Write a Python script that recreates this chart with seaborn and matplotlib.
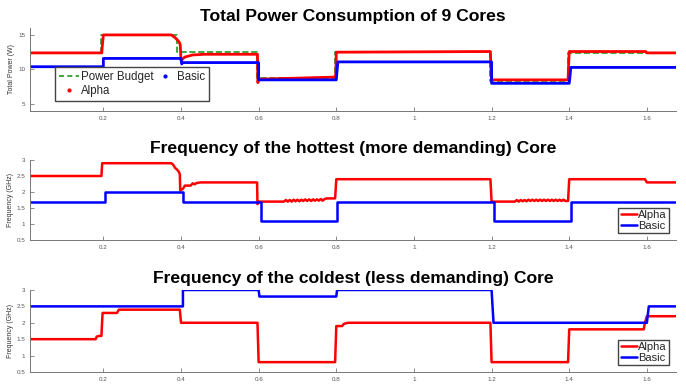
import pandas as pd
import matplotlib.pyplot as plt
from matplotlib.lines import Line2D
import seaborn as sns

# ---- Data ----
# Panel 1: total power (W)
budget_t = [0.011, 0.194, 0.194, 0.39, 0.39, 0.596, 0.596, 0.797, 0.797, 1.197, 1.197, 1.397, 1.397, 1.675]
budget_w = [12.4, 12.4, 15.0, 15.0, 12.5, 12.5, 8.7, 8.7, 12.5, 12.5, 8.3, 8.3, 12.4, 12.4]

alpha_pow_t = [0.011, 0.196, 0.197, 0.2, 0.375, 0.385, 0.395, 0.398, 0.4, 0.41, 0.43, 0.46, 0.597,
               0.598, 0.6, 0.797, 0.799, 0.8, 1.197, 1.198, 1.2, 1.397, 1.398, 1.4, 1.597, 1.6, 1.675]
alpha_pow_w = [12.4, 12.4, 13.2, 15.0, 15.0, 14.6, 14.0, 13.6, 11.3, 11.8, 12.1, 12.2, 12.2,
               8.1, 8.6, 8.9, 9.5, 12.5, 12.6, 10.5, 8.5, 8.5, 10.0, 12.6, 12.6, 12.4, 12.4]

basic_pow_t = [0.011, 0.2, 0.2, 0.4, 0.402, 0.404, 0.6, 0.6, 0.8, 0.802, 0.804, 1.2, 1.2, 1.4, 1.402, 1.404, 1.675]
basic_pow_w = [10.4, 10.4, 11.6, 11.6, 10.8, 11.0, 11.0, 8.5, 8.5, 9.8, 11.1, 11.1, 8.0, 8.0, 9.0, 10.3, 10.3]

# Panel 2: frequency of the hottest core (GHz)
alpha_hot_t = [0.011, 0.195, 0.197, 0.375, 0.38, 0.385, 0.39, 0.395, 0.397, 0.398, 0.405, 0.41, 0.425,
               0.43, 0.435, 0.44, 0.45, 0.596, 0.597, 0.6, 0.665,
               0.67, 0.675, 0.68, 0.685, 0.69, 0.695, 0.70, 0.705, 0.71, 0.715, 0.72, 0.725,
               0.73, 0.735, 0.74, 0.745, 0.75, 0.755, 0.76, 0.765, 0.77,
               0.775, 0.797, 0.8, 1.197, 1.2, 1.26,
               1.265, 1.27, 1.275, 1.28, 1.285, 1.29, 1.295, 1.30, 1.305, 1.31, 1.315, 1.32,
               1.325, 1.33, 1.335, 1.34, 1.345, 1.35, 1.355, 1.36, 1.365, 1.37, 1.375, 1.38,
               1.385, 1.39, 1.397, 1.4, 1.595, 1.6, 1.675]
alpha_hot_f = [2.5, 2.5, 2.9, 2.9, 2.85, 2.75, 2.7, 2.62, 2.55, 2.05, 2.1, 2.2, 2.2,
               2.27, 2.24, 2.28, 2.3, 2.3, 1.62, 1.7, 1.7,
               1.75, 1.7, 1.75, 1.7, 1.76, 1.71, 1.76, 1.71, 1.76, 1.72, 1.77, 1.72,
               1.77, 1.72, 1.77, 1.73, 1.77, 1.73, 1.78, 1.73, 1.78,
               1.8, 1.8, 2.4, 2.4, 1.7, 1.7,
               1.75, 1.7, 1.75, 1.71, 1.75, 1.71, 1.76, 1.72, 1.76, 1.72, 1.76, 1.72,
               1.76, 1.72, 1.76, 1.72, 1.76, 1.72, 1.76, 1.72, 1.76, 1.72, 1.76, 1.72,
               1.76, 1.72, 1.72, 2.4, 2.4, 2.3, 2.3]

basic_hot_t = [0.011, 0.205, 0.205, 0.405, 0.405, 0.605, 0.605, 0.803, 0.803, 1.205, 1.205, 1.405, 1.405, 1.675]
basic_hot_f = [1.7, 1.7, 2.0, 2.0, 1.7, 1.7, 1.1, 1.1, 1.7, 1.7, 1.1, 1.1, 1.7, 1.7]

# Panel 3: frequency of the coldest core (GHz)
alpha_cold_t = [0.011, 0.18, 0.183, 0.19, 0.195, 0.198, 0.235, 0.24, 0.397, 0.4, 0.597, 0.6,
                0.797, 0.8, 0.815, 0.82, 0.83, 1.197, 1.2, 1.397, 1.4, 1.592, 1.595, 1.6, 1.675]
alpha_cold_f = [1.5, 1.5, 1.58, 1.6, 1.6, 2.3, 2.3, 2.4, 2.4, 2.0, 2.0, 0.8,
                0.8, 1.9, 1.9, 1.97, 2.0, 2.0, 0.8, 0.8, 1.8, 1.8, 2.0, 2.2, 2.2]

basic_cold_t = [0.011, 0.405, 0.405, 0.6, 0.602, 0.8, 0.802, 1.2, 1.205, 1.6, 1.605, 1.675]
basic_cold_f = [2.5, 2.5, 3.0, 3.0, 2.8, 2.8, 3.0, 3.0, 2.0, 2.0, 2.5, 2.5]

x_ticks = [0.2, 0.4, 0.6, 0.8, 1.0, 1.2, 1.4, 1.6]
x_tick_labels = ["0.2", "0.4", "0.6", "0.8", "1", "1.2", "1.4", "1.6"]
f_ticks = [0.5, 1, 1.5, 2, 2.5, 3]
f_tick_labels = ["0.5", "1", "1.5", "2", "2.5", "3"]
p_ticks = [5, 10, 15]

RED = "#ff0000"
BLUE = "#0000ff"
GREEN = "#1f9a1f"
GRAY = "#777777"

sns.set_style("ticks")
plt.rcParams["font.family"] = ["Liberation Sans", "DejaVu Sans"]

fig = plt.figure(figsize=(6.86, 3.85), dpi=100)
ax1 = fig.add_axes([0.0437, 0.7117, 0.9417, 0.2156])
ax2 = fig.add_axes([0.0437, 0.3766, 0.9417, 0.2078])
ax3 = fig.add_axes([0.0437, 0.0338, 0.9417, 0.2130])


def draw(ax, t, v, color, **kw):
    df = pd.DataFrame({"t": t, "v": v})
    sns.lineplot(data=df, x="t", y="v", ax=ax, color=color, sort=False,
                 estimator=None, legend=False, **kw)


title_kw = dict(fontsize=12.6, fontweight="bold", pad=5, color="black")

# Panel 1
draw(ax1, budget_t, budget_w, GREEN, lw=1.2, linestyle="--", dashes=(3, 2))
draw(ax1, alpha_pow_t, alpha_pow_w, RED, lw=2.0)
draw(ax1, basic_pow_t, basic_pow_w, BLUE, lw=2.0)
ax1.set_ylim(4, 16)
ax1.set_yticks(p_ticks)
ax1.set_yticklabels([str(p) for p in p_ticks])
ax1.set_ylabel("Total Power (W)", fontsize=5, color="#333333", labelpad=2)
ax1.set_title("Total Power Consumption of 9 Cores", **title_kw)
handles = [Line2D([0], [0], color=GREEN, lw=1.2, linestyle="--", dashes=(3, 2)),
           Line2D([0], [0], color=RED, marker=".", ls="none", markersize=4),
           Line2D([0], [0], color=BLUE, marker=".", ls="none", markersize=4)]
ax1.legend(handles, ["Power Budget", "Alpha", "Basic"], ncol=2, loc="lower left",
           bbox_to_anchor=(0.039, 0.12), borderaxespad=0, fontsize=8.3,
           fancybox=False, edgecolor="#444444", framealpha=1, handlelength=1.7,
           handletextpad=0.15, columnspacing=0.2, labelspacing=0.2, borderpad=0.35)

# Panel 2
draw(ax2, alpha_hot_t, alpha_hot_f, RED, lw=1.8)
draw(ax2, basic_hot_t, basic_hot_f, BLUE, lw=1.8)
ax2.set_ylabel("Frequency (GHz)", fontsize=5, color="#333333", labelpad=2)
ax2.set_title("Frequency of the hottest (more demanding) Core", **title_kw)

# Panel 3
draw(ax3, alpha_cold_t, alpha_cold_f, RED, lw=1.8)
draw(ax3, basic_cold_t, basic_cold_f, BLUE, lw=1.8)
ax3.set_ylabel("Frequency (GHz)", fontsize=5, color="#333333", labelpad=2)
ax3.set_title("Frequency of the coldest (less demanding) Core", **title_kw)

for ax in (ax2, ax3):
    ax.set_ylim(0.5, 3)
    ax.set_yticks(f_ticks)
    ax.set_yticklabels(f_tick_labels)
    lh = [Line2D([0], [0], color=RED, lw=1.8), Line2D([0], [0], color=BLUE, lw=1.8)]
    ax.legend(lh, ["Alpha", "Basic"], loc="lower right", fontsize=8, fancybox=False,
              edgecolor="#444444", framealpha=1, handlelength=1.5, handletextpad=0.1,
              labelspacing=0.1, borderpad=0.2, borderaxespad=0.6)

for ax in (ax1, ax2, ax3):
    ax.set_xlim(0.011, 1.675)
    ax.set_xticks(x_ticks)
    ax.set_xticklabels(x_tick_labels)
    ax.set_xlabel("")
    ax.tick_params(direction="in", length=3, width=0.6, colors=GRAY, labelsize=4.5,
                   labelcolor="#555555")
    for s in ("top", "right"):
        ax.spines[s].set_visible(False)
    for s in ("left", "bottom"):
        ax.spines[s].set_color(GRAY)
        ax.spines[s].set_linewidth(0.7)

fig.savefig("out.png", dpi=100)
